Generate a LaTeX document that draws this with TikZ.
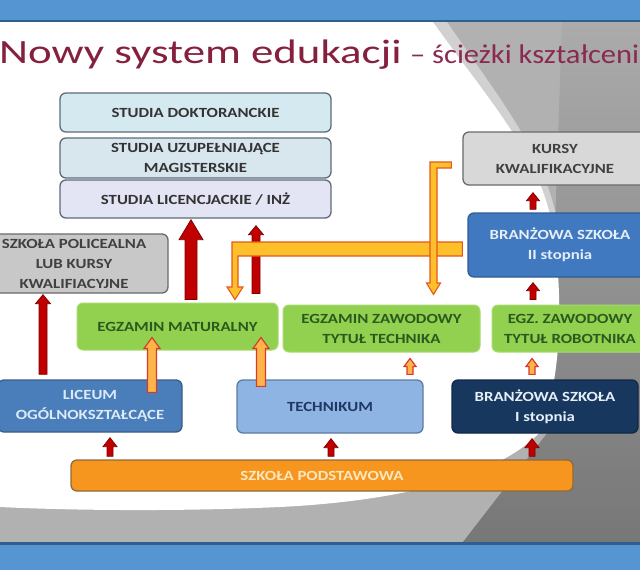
\documentclass[tikz,border=0pt]{standalone}
\usepackage{fontspec}
\setmainfont{Carlito}[FakeStretch=1.2]
\newfontfamily\titlefont{Carlito}[FakeStretch=1.32]
\newfontfamily\subfont{Carlito}[FakeStretch=1.13]
\usetikzlibrary{calc}
\definecolor{bluebar}{HTML}{5596D2}
\definecolor{bluebardark}{HTML}{2F5F8E}
\definecolor{bggray}{HTML}{B1B1B1}
\definecolor{dkgray}{HTML}{777777}
\definecolor{topgray}{HTML}{ABABAB}
\definecolor{titlecol}{HTML}{85203F}
\definecolor{subcol}{HTML}{8A2A50}
\definecolor{stA}{HTML}{D5E9F1}
\definecolor{stB}{HTML}{D8E6EE}
\definecolor{stC}{HTML}{E3E4F4}
\definecolor{stborder}{HTML}{5E6B7A}
\definecolor{sttext}{HTML}{333333}
\definecolor{grayfill}{HTML}{C8C8C8}
\definecolor{grayfillB}{HTML}{D8D8D8}
\definecolor{grayborder}{HTML}{6A6A6A}
\definecolor{greenfill}{HTML}{92D050}
\definecolor{greenborder}{HTML}{A8DC70}
\definecolor{greentext}{HTML}{2C5A1E}
\definecolor{licfill}{HTML}{4A7EBB}
\definecolor{licborder}{HTML}{385D8A}
\definecolor{lictext}{HTML}{DCEAF7}
\definecolor{techfill}{HTML}{8EB4E3}
\definecolor{techborder}{HTML}{5B7BA3}
\definecolor{techtext}{HTML}{1F3864}
\definecolor{brAfill}{HTML}{17375E}
\definecolor{brAborder}{HTML}{10294A}
\definecolor{brBfill}{HTML}{4079C0}
\definecolor{brBborder}{HTML}{2F5D96}
\definecolor{brtext}{HTML}{E6EEF8}
\definecolor{podfill}{HTML}{F7961E}
\definecolor{podborder}{HTML}{8F6A3A}
\definecolor{podtext}{HTML}{FDE7BE}
\definecolor{redA}{HTML}{C00000}
\definecolor{redB}{HTML}{7F0000}
\definecolor{orfill}{HTML}{FDC02A}
\definecolor{orline}{HTML}{E4581C}
\definecolor{hofill}{HTML}{FDB54A}
\definecolor{holine}{HTML}{D63B2B}
\newcommand\boxfont{\fontsize{14}{20}\selectfont\bfseries}
% block arrow pointing up: [style]{x}{from node}{to node}{gap from}{gap to}{shaft w}{head w}{head len}
\newcommand\blkup[9][redarr]{%
  \path[#1] let \p1=(#3.north -| #2,0), \p2=(#4.south -| #2,0) in
   ({\x1-(#7)/2},{\y1+(#5)}) -- ({\x1-(#7)/2},{\y2-(#6)-(#9)}) --
   ({\x1-(#8)/2},{\y2-(#6)-(#9)}) -- (\x1,{\y2-(#6)}) --
   ({\x1+(#8)/2},{\y2-(#6)-(#9)}) -- ({\x1+(#7)/2},{\y2-(#6)-(#9)}) --
   ({\x1+(#7)/2},{\y1+(#5)}) -- cycle;}
\tikzset{
  box/.style={rounded corners=6pt, inner sep=0pt, align=center, font=\boxfont, line width=1.3pt},
  studia/.style={box, draw=stborder, text=sttext, minimum width=271pt},
  grayb/.style={box, draw=grayborder, text=black!75},
  greenb/.style={box, fill=greenfill, draw=greenborder, line width=1pt, text=greentext, minimum height=47pt},
  redarr/.style={fill=redA, draw=redB, line width=0.7pt, line join=miter},
  obar/.style={fill=orfill, draw=orline, line width=1.1pt, line join=miter},
  hollow/.style={fill=hofill, draw=holine, line width=1.2pt, line join=miter}
}
\begin{document}
\begin{tikzpicture}[x=1pt,y=-1pt]
\useasboundingbox (0,0) rectangle (640,570);
\clip (0,0) rectangle (640,570);
% background
\fill[bggray] (0,22) rectangle (640,542);
\shade[top color=topgray, bottom color=dkgray] (463,542) -- (548,432) -- (562,22) -- (640,22) -- (640,542) -- cycle;
\fill[black!18] (433,22) -- (447,22) .. controls (495,92) and (542,150) .. (556,215) -- (550,215) .. controls (535,150) and (485,95) .. (433,22) -- cycle;
\fill[white] (0,22) -- (433,22) .. controls (485,95) and (535,150) .. (550,215) .. controls (565,290) and (562,380) .. (540,432) .. controls (505,470) and (420,500) .. (280,507) .. controls (170,512) and (60,510) .. (0,507) -- cycle;
\fill[bluebar] (0,0) rectangle (640,22);
\fill[bluebardark] (0,19.5) rectangle (640,22);
\fill[bluebar] (0,542) rectangle (640,570);
\fill[bluebardark] (0,542) rectangle (640,544.5);
% title
\node[anchor=base west, inner sep=0pt, font=\titlefont\fontsize{34}{34}\selectfont, text=titlecol] (title) at (-1,63) {Nowy system edukacji};
\node[anchor=base west, inner sep=0pt, font=\subfont\fontsize{27}{27}\selectfont, text=subcol] (subtitle) at ([xshift=8pt]title.base east) {– ścieżki kształcenia};
% boxes
\node[studia, fill=stA, minimum height=39pt] (dokt) at (195.5,112.5) {STUDIA DOKTORANCKIE};
\node[studia, fill=stB, minimum height=40pt] (uzup) at (195.5,158) {STUDIA UZUPEŁNIAJĄCE\\MAGISTERSKIE};
\node[studia, fill=stC, minimum height=38pt] (licen) at (195.5,199) {STUDIA LICENCJACKIE / INŻ};
\node[grayb, fill=grayfill, minimum width=188pt, minimum height=59pt] (polic) at (74,263.5) {SZKOŁA POLICEALNA\\LUB KURSY\\KWALIFIACYJNE};
\node[grayb, fill=grayfillB, minimum width=184pt, minimum height=53pt] (kursy) at (555,158.5) {KURSY\\KWALIFIKACYJNE};
\node[box, fill=brBfill, draw=brBborder, text=brtext, minimum width=184pt, minimum height=64pt] (br2) at (560,245) {BRANŻOWA SZKOŁA\\II stopnia};
\node[greenb, minimum width=201pt] (matura) at (177.5,326.5) {EGZAMIN MATURALNY};
\node[greenb, minimum width=197pt] (egzt) at (381.5,328.5) {EGZAMIN ZAWODOWY\\TYTUŁ TECHNIKA};
\node[greenb, minimum width=156pt] (egzr) at (570,328.5) {EGZ. ZAWODOWY\\TYTUŁ ROBOTNIKA};
\node[box, fill=licfill, draw=licborder, text=lictext, minimum width=184pt, minimum height=52pt] (liceum) at (90,406) {LICEUM\\OGÓLNOKSZTAŁCĄCE};
\node[box, fill=techfill, draw=techborder, text=techtext, minimum width=186pt, minimum height=53pt] (techn) at (330,406.5) {TECHNIKUM};
\node[box, fill=brAfill, draw=brAborder, text=brtext, minimum width=186pt, minimum height=53pt] (br1) at (545,406.5) {BRANŻOWA SZKOŁA\\I stopnia};
\node[box, fill=podfill, draw=podborder, text=podtext, minimum width=502pt, minimum height=31pt] (podst) at (322,475.5) {SZKOŁA PODSTAWOWA};
% red arrows
\blkup{110}{podst}{liceum}{3pt}{5pt}{6pt}{14pt}{9pt}
\blkup{331}{podst}{techn}{3pt}{5pt}{6pt}{14pt}{9pt}
\blkup{532}{podst}{br1}{3pt}{5pt}{6pt}{14pt}{9pt}
\blkup{43}{liceum}{polic}{5pt}{1pt}{8pt}{15pt}{9pt}
\blkup{191}{matura}{licen}{3pt}{1pt}{12pt}{24pt}{20pt}
\blkup{256}{matura}{licen}{9pt}{7pt}{8pt}{15pt}{9pt}
\blkup{533}{egzr}{br2}{5pt}{5pt}{6pt}{13pt}{8pt}
\blkup{533}{br2}{kursy}{3pt}{7pt}{6pt}{13pt}{8pt}
% orange bar from BRANZOWA II to matura
\coordinate (barend) at ([xshift=-5pt]br2.west);
\path[obar] (barend |- 0,242) -- (232,242) -- (232,287) -- (227,287) -- ($(matura.north -| 235,0)+(0,-3)$) -- (243,287) -- (238,287) -- (238,256) -- (barend |- 0,256) -- cycle;
% hook arrow from KURSY to egzamin technika
\coordinate (hk) at ([xshift=-11pt]kursy.west);
\path[obar] (430,162) -- (hk |- 0,162) -- (hk |- 0,168) -- (437,168) -- (437,283) -- (440.5,283) -- ($(egzt.north -| 433.5,0)+(0,-10)$) -- (426.5,283) -- (430,283) -- cycle;
% hollow orange arrows
\blkup[hollow]{152}{liceum}{matura}{-13pt}{-13pt}{9pt}{16pt}{11pt}
\blkup[hollow]{261}{techn}{matura}{-7pt}{-13pt}{9pt}{16pt}{11pt}
\blkup[hollow]{410}{techn}{egzt}{5pt}{6pt}{6pt}{12pt}{8pt}
\blkup[hollow]{532}{br1}{egzr}{5pt}{6pt}{6pt}{12pt}{8pt}
\end{tikzpicture}
\end{document}
